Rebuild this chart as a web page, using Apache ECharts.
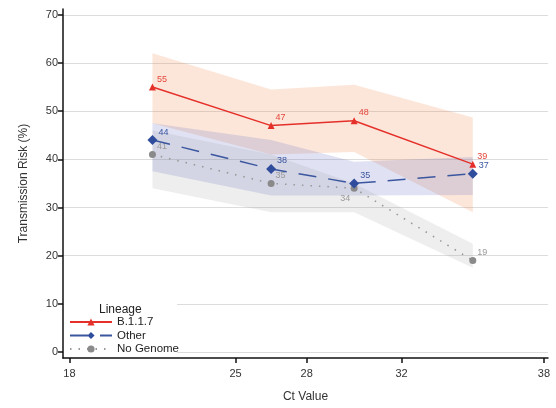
<!DOCTYPE html>
<html>
<head>
<meta charset="utf-8">
<script src="https://cdn.jsdelivr.net/npm/echarts@6/dist/echarts.min.js"></script>
<style>
html,body{margin:0;padding:0;background:#fff;}
#chart{width:556px;height:408px;}
</style>
</head>
<body>
<div id="chart"></div>
<script>
// ---- data ----
var ctX = [21.5, 26.5, 30, 35];               // bin midpoints of Ct value
var xTicks = [18, 25, 28, 32, 38];
var yTicks = [0, 10, 20, 30, 40, 50, 60, 70];

var b117 = [55, 47, 48, 39];
var b117Lower = [47.5, 41, 41.5, 29];
var b117Upper = [62, 54.5, 55.5, 48.7];

var other = [44, 38, 35, 37];
var otherLower = [37.5, 32.5, 32.5, 32.6];
var otherUpper = [47.5, 44, 39.5, 40.5];

var noGenome = [41, 35, 34, 19];
var noGenomeLower = [34, 29, 29, 17.5];
var noGenomeUpper = [46, 41, 35, 22.5];

var FONT = 'Liberation Sans, Arial, sans-serif';

function pairs(ys) { return ctX.map(function (x, i) { return [x, ys[i]]; }); }

function band(name, lower, upper, fill) {
  return {
    type: 'custom', name: name, silent: true, z: 1,
    data: [[ctX[0], lower[0]]],
    renderItem: function (params, api) {
      var pts = [], i;
      for (i = 0; i < ctX.length; i++) pts.push(api.coord([ctX[i], upper[i]]));
      for (i = ctX.length - 1; i >= 0; i--) pts.push(api.coord([ctX[i], lower[i]]));
      return { type: 'polygon', shape: { points: pts }, style: { fill: fill } };
    }
  };
}

function lbl(color, pos, offset) {
  return {
    show: true, position: pos || 'right', offset: offset || [-4, -8],
    color: color, fontSize: 9, fontFamily: FONT,
    formatter: function (p) { return p.value[1]; }
  };
}

var chart = echarts.init(document.getElementById('chart'), null, { renderer: 'canvas' });

var greyData = pairs(noGenome).map(function (d, i) {
  if (i === 2) return { value: d, label: lbl('#999', 'bottom', [-9, -3]) };
  return d;
});

chart.setOption({
  animation: false,
  backgroundColor: '#fff',
  textStyle: { fontFamily: FONT },
  grid: { left: 63, right: 8, top: 9, bottom: 48, containLabel: false },
  xAxis: {
    type: 'value', min: 17.73, max: 38.17,
    name: 'Ct Value', nameLocation: 'middle', nameGap: 33,
    nameTextStyle: { fontSize: 12, color: '#333', fontFamily: FONT },
    axisLine: { show: true, onZero: false, lineStyle: { color: '#111', width: 1.5 } },
    axisTick: { show: true, customValues: xTicks, length: 5, lineStyle: { color: '#111', width: 1.5 } },
    axisLabel: { customValues: xTicks, fontSize: 11, color: '#333', margin: 10, fontFamily: FONT },
    splitLine: { show: false }
  },
  yAxis: {
    type: 'value', min: -1.24, max: 71.2,
    name: 'Transmission Risk (%)', nameLocation: 'middle', nameGap: 33, nameRotate: 90,
    nameTextStyle: { fontSize: 12, color: '#333', fontFamily: FONT },
    axisLine: { show: true, onZero: false, lineStyle: { color: '#111', width: 1.5 } },
    axisTick: { show: true, customValues: yTicks, length: 5, lineStyle: { color: '#111', width: 1.5 } },
    axisLabel: { customValues: yTicks, fontSize: 11, color: '#333', margin: 5, fontFamily: FONT },
    splitLine: { show: true, lineStyle: { color: '#dcdcdc', width: 1.2 } }
  },
  legend: {
    data: ['B.1.1.7', 'Other', 'No Genome'],
    orient: 'vertical', left: 69, top: 316,
    itemWidth: 42, itemHeight: 9, itemGap: 1.5, padding: 0,
    textStyle: { fontSize: 11.5, color: '#222', fontFamily: FONT },
    z: 10
  },
  graphic: [
    { type: 'rect', left: 64, top: 300, z: 5, shape: { width: 113, height: 57 }, style: { fill: '#fff' } },
    { type: 'text', left: 99, top: 304, z: 6, style: { text: 'Lineage', fontSize: 12, fill: '#222', font: '12.5px ' + FONT } }
  ],
  series: [
    band('b117band', b117Lower, b117Upper, 'rgba(240,130,70,0.2)'),
    band('otherband', otherLower, otherUpper, 'rgba(100,110,195,0.2)'),
    band('ngband', noGenomeLower, noGenomeUpper, 'rgba(150,150,150,0.16)'),
    {
      name: 'No Genome', type: 'line', z: 3, data: greyData,
      symbol: 'circle', symbolSize: 7,
      itemStyle: { color: '#8a8a8a' },
      lineStyle: { color: '#999', width: 1.6, type: [1.5, 7] },
      label: lbl('#999')
    },
    {
      name: 'Other', type: 'line', z: 4, data: pairs(other),
      symbol: 'diamond', symbolSize: 10,
      itemStyle: { color: '#2f4d9c' },
      lineStyle: { color: '#3a569f', width: 1.5, type: [18, 12] },
      label: lbl('#3a569f')
    },
    {
      name: 'B.1.1.7', type: 'line', z: 5, data: pairs(b117),
      symbol: 'triangle', symbolSize: 7,
      itemStyle: { color: '#e5302a' },
      lineStyle: { color: '#e5302a', width: 1.5 },
      label: lbl('#e5453a')
    }
  ]
});
</script>
</body>
</html>
